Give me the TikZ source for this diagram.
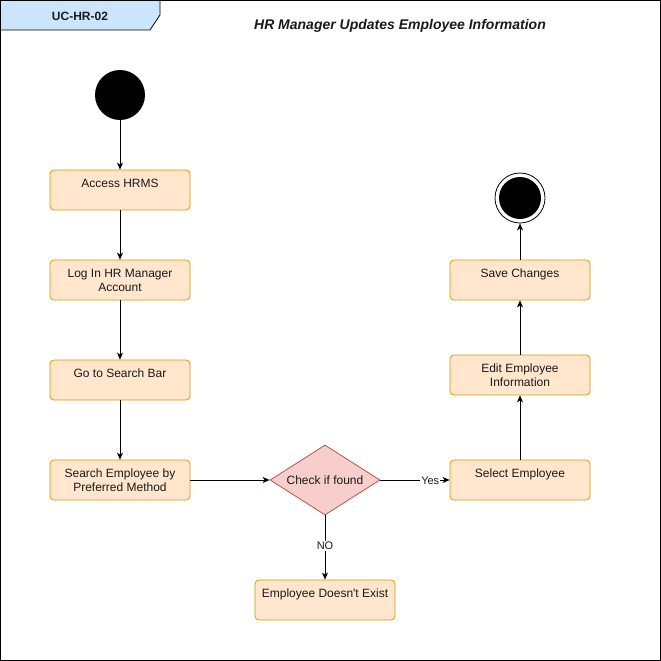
\documentclass[tikz,border=0pt]{standalone}
\usepackage{fontspec}
\setmainfont{Liberation Sans}
\usetikzlibrary{arrows.meta,shapes.geometric}
\definecolor{boxfill}{HTML}{FFE6CC}
\definecolor{boxline}{HTML}{D79B00}
\definecolor{dfill}{HTML}{F8CECC}
\definecolor{dline}{HTML}{B85450}
\definecolor{tagfill}{HTML}{CCE5FF}
\definecolor{txt}{HTML}{1A1A1A}
\begin{document}
\begin{tikzpicture}[x=1pt,y=-1pt,
  stepbox/.style={draw=boxline,fill=boxfill,rounded corners=4pt,minimum width=140pt,minimum height=40pt,inner sep=0pt,align=center,font=\fontsize{12}{14}\selectfont,text=txt,line width=0.8pt},
  decide/.style={diamond,draw=dline,fill=dfill,minimum width=110pt,minimum height=70pt,inner sep=0pt,aspect=1.57,font=\fontsize{12}{14}\selectfont,text=txt,line width=0.8pt},
  flow/.style={-{Stealth[length=7pt,width=6pt,inset=2pt]},line width=0.8pt},
  edgelabel/.style={fill=white,inner sep=1pt,font=\fontsize{11}{13}\selectfont,text=txt}]
\useasboundingbox (0,0) rectangle (661,661);
\fill[white] (0,0) rectangle (661,661);
\draw[line width=1pt] (0.5,0.5) rectangle (660,660);
% tag
\draw[fill=tagfill,line width=0.8pt] (0.5,0.5) -- (160,0.5) -- (160,15) -- (150,30) -- (0.5,30) -- cycle;
\node[font=\bfseries\fontsize{12}{14}\selectfont,text=txt] (tag) at (80,16) {UC-HR-02};
\node[font=\bfseries\itshape\fontsize{14}{16}\selectfont,text=txt] (title) at (400,25.5) {HR Manager Updates Employee Information};
% start
\node[circle,fill=black,minimum size=50pt,inner sep=0pt] (start) at (120,95) {};
\node[stepbox] (access) at (120,190) {\raisebox{-1pt}{Access HRMS}\\\mbox{}};
\node[stepbox] (login) at (120,280) {\raisebox{-1pt}{Log In HR Manager}\\\raisebox{-1pt}{Account}};
\node[stepbox] (search) at (120,380) {\raisebox{-1pt}{Go to Search Bar}\\\mbox{}};
\node[stepbox] (pref) at (120,480) {\raisebox{-1pt}{Search Employee by}\\\raisebox{-1pt}{Preferred Method}};
\node[decide] (check) at (325,480) {\raisebox{-1pt}{Check if found}};
\node[stepbox] (select) at (520,480) {\raisebox{-1pt}{Select Employee}\\\mbox{}};
\node[stepbox] (edit) at (520,375) {\raisebox{-1pt}{Edit Employee}\\\raisebox{-1pt}{Information}};
\node[stepbox] (save) at (520,280) {\raisebox{-1pt}{Save Changes}\\\mbox{}};
\node[stepbox] (noexist) at (325,600) {\raisebox{-1pt}{Employee Doesn\textquotesingle t Exist}\\\mbox{}};
\node[circle,draw=black,fill=white,minimum size=50pt,inner sep=0pt,line width=0.8pt] (endo) at (520,198) {};
\node[circle,fill=black,minimum size=42pt,inner sep=0pt] (endi) at (520,198) {};
% edges
\draw[flow] (start) -- (access);
\draw[flow] (access) -- (login);
\draw[flow] (login) -- (search);
\draw[flow] (search) -- (pref);
\draw[flow] (pref) -- (check.west);
\draw[flow] (check.east) -- (select) node[edgelabel,pos=0.72,yshift=-1pt] {Yes};
\draw[flow] (check.south) -- (noexist) node[edgelabel,pos=0.46,yshift=-1pt] {NO};
\draw[flow] (select) -- (edit);
\draw[flow] (edit) -- (save);
\draw[flow] (save) -- (endo);
\end{tikzpicture}
\end{document}
